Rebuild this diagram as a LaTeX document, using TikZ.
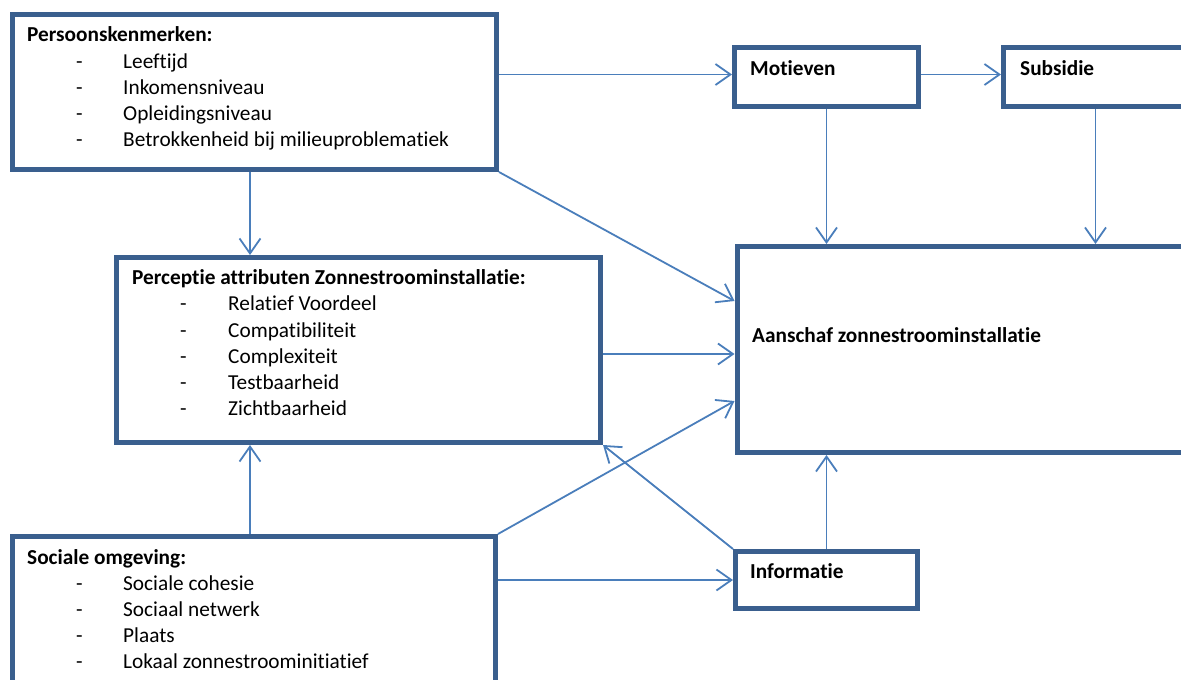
\documentclass[tikz,border=0pt]{standalone}
\usepackage{fontspec}
\setmainfont{Carlito}[Ligatures={NoCommon}]
\usetikzlibrary{arrows.meta,calc}
\definecolor{boxblue}{HTML}{3A5F8E}
\definecolor{arrblue}{HTML}{4A7EBB}
\tikzset{
  box/.style={draw=boxblue, line width=5pt, fill=white, rectangle, anchor=north west, inner sep=0pt},
  txt/.style={anchor=base west, inner sep=0pt, font=\fontsize{21.3pt}{26pt}\selectfont},
  ttl/.style={txt, font=\fontsize{21.3pt}{26pt}\selectfont\bfseries},
  arr/.style={draw=arrblue, line width=1.8pt, -{Straight Barb[length=15pt,width=21pt,line width=1.8pt]}},
}
\begin{document}
\begin{tikzpicture}[x=1pt,y=-1pt]
\useasboundingbox (0,0) rectangle (1181,680);
\clip (0,0) rectangle (1181,680);
% boxes
\node[box, minimum width=484pt, minimum height=155pt] (P) at (10,12) {};
\node[box, minimum width=184pt, minimum height=59pt] (M) at (732,44.5) {};
\node[box, minimum width=184pt, minimum height=59pt] (S) at (1001,44.5) {};
\node[box, minimum width=470pt, minimum height=206pt] (A) at (734.5,244) {};
\node[box, minimum width=484pt, minimum height=185pt] (C) at (114,255) {};
\node[box, minimum width=182pt, minimum height=57pt] (I) at (733,549) {};
\node[box, minimum width=483pt, minimum height=190pt] (O) at (10,534) {};
% texts
\node[ttl] (pt) at (27,41) {Persoonskenmerken:};
\node[txt] (pd1) at (76,68) {-};
\node[txt] (pd2) at (76,94) {-};
\node[txt] (pd3) at (76,120) {-};
\node[txt] (pd4) at (76,146) {-};
\node[txt] (p1) at (123,68) {Leeftijd};
\node[txt] (p2) at (123,94) {Inkomensniveau};
\node[txt] (p3) at (123,120) {Opleidingsniveau};
\node[txt] (p4) at (123,146) {Betrokkenheid bij milieuproblematiek};

\node[ttl] (mt) at (750,75) {Motieven};
\node[ttl] (st) at (1020,75) {Subsidie};
\node[ttl] (at) at (752,342) {Aanschaf zonnestroominstallatie};
\node[ttl] (it) at (750,578) {Informatie};

\node[ttl] (ct) at (132,284) {Perceptie attributen Zonnestroominstallatie:};
\node[txt] (cd1) at (180,310) {-};
\node[txt] (cd2) at (180,337) {-};
\node[txt] (cd3) at (180,363) {-};
\node[txt] (cd4) at (180,389) {-};
\node[txt] (cd5) at (180,415) {-};
\node[txt] (c1) at (228,310) {Relatief Voordeel};
\node[txt] (c2) at (228,337) {Compatibiliteit};
\node[txt] (c3) at (228,363) {Complexiteit};
\node[txt] (c4) at (228,389) {Testbaarheid};
\node[txt] (c5) at (228,415) {Zichtbaarheid};

\node[ttl] (ot) at (27,564) {Sociale omgeving:};
\node[txt] (od1) at (76,590) {-};
\node[txt] (od2) at (76,616) {-};
\node[txt] (od3) at (76,642) {-};
\node[txt] (od4) at (76,668) {-};
\node[txt] (o1) at (123,590) {Sociale cohesie};
\node[txt] (o2) at (123,616) {Sociaal netwerk};
\node[txt] (o3) at (123,642) {Plaats};
\node[txt] (o4) at (123,668) {Lokaal zonnestroominitiatief};
% connectors
\draw[arr] ($(M.west -| P.east)+(0,-2)$) -- ($(M.west)+(0,-2)$);
\draw[arr] ($(M.east)+(0,-2)$) -- ($(S.west)+(0,-2)$);
\draw[arr] (M.south) -- (M.south |- A.north);
\draw[arr] (S.south) -- (S.south |- A.north);
\draw[arr] ($(P.south west)+(240,0)$) -- ($(C.north west)+(136,0)$);
\draw[arr] (P.south east) -- ($(A.north west)+(0,57)$);
\draw[arr] ($(C.east)+(0,4)$) -- ($(C.east -| A.west)+(0,4)$);
\draw[arr] ($(O.north west)+(240,0)$) -- ($(C.south west)+(136,0)$);
\draw[arr] (O.north east) -- ($(A.south west)+(0,-54)$);
\draw[arr] (I.north west) -- (C.south east);
\draw[arr] (I.west -| O.east) -- (I.west);
\draw[arr] (I.north) -- (I.north |- A.south);
\end{tikzpicture}
\end{document}
